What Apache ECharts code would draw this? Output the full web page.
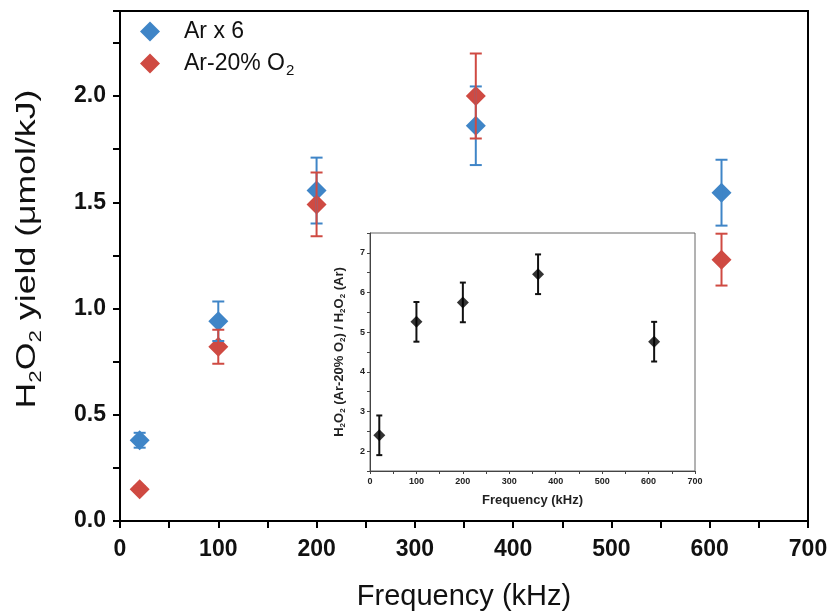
<!DOCTYPE html>
<html>
<head>
<meta charset="utf-8">
<script src="https://cdn.jsdelivr.net/npm/echarts@6/dist/echarts.min.js"></script>
<style>
  html, body { margin: 0; padding: 0; background: #fff; }
  #chart { width: 833px; height: 612px; }
</style>
</head>
<body>
<div id="chart"></div>
<script>
// Frequency (kHz) of each measurement
const frequency = [20, 100, 200, 362, 612];

// H2O2 yield (µmol/kJ), argon values scaled by 6
const arYield = [0.38, 0.94, 1.555, 1.86, 1.545];
const arError = [0.035, 0.093, 0.155, 0.185, 0.155];

// H2O2 yield (µmol/kJ), Ar-20% O2
const o2Yield = [0.15, 0.82, 1.49, 2.0, 1.23];
const o2Error = [0.012, 0.08, 0.15, 0.2, 0.122];

// Ratio of yields, Ar-20% O2 over Ar
const ratio = [2.4, 5.26, 5.75, 6.46, 4.76];
const ratioError = [0.5, 0.5, 0.5, 0.5, 0.5];

const BLUE = '#3f85c7';
const RED = '#cf4a42';
const FONT = 'Liberation Sans, Arial, sans-serif';

function points(xs, ys) { return xs.map((x, i) => [x, ys[i]]); }
function bars(xs, ys, es) { return xs.map((x, i) => [x, ys[i] - es[i], ys[i] + es[i]]); }

function errorBars(color, cap, width) {
  return function (params, api) {
    const x = api.value(0);
    const lo = api.coord([x, api.value(1)]);
    const hi = api.coord([x, api.value(2)]);
    const style = { stroke: color, lineWidth: width };
    return {
      type: 'group',
      children: [
        { type: 'line', shape: { x1: lo[0], y1: lo[1], x2: hi[0], y2: hi[1] }, style },
        { type: 'line', shape: { x1: hi[0] - cap, y1: hi[1], x2: hi[0] + cap, y2: hi[1] }, style },
        { type: 'line', shape: { x1: lo[0] - cap, y1: lo[1], x2: lo[0] + cap, y2: lo[1] }, style }
      ]
    };
  };
}

const chart = echarts.init(document.getElementById('chart'), null, { renderer: 'canvas' });

chart.setOption({
  backgroundColor: '#ffffff',
  animation: false,
  legend: {
    left: 135,
    top: 15,
    orient: 'vertical',
    itemWidth: 20,
    itemHeight: 20,
    itemGap: 9,
    data: ['Ar x 6', 'Ar-20% O2'],
    formatter: function (name) {
      return name === 'Ar-20% O2' ? '{t|Ar-20% O}{s|2}' : '{t|' + name + '}';
    },
    textStyle: {
      color: '#111',
      fontFamily: FONT,
      fontSize: 23,
      padding: [0, 0, 0, 19],
      rich: {
        t: { fontSize: 23, fontFamily: FONT, color: '#111' },
        s: { fontSize: 15, fontFamily: FONT, color: '#111', padding: [15, 0, 0, 1] }
      }
    }
  },
  // main y-axis title, drawn elongated along its length
  graphic: [
    {
      type: 'text',
      x: 28,
      y: 249,
      rotation: Math.PI / 2,
      scaleX: 1.32,
      style: {
        text: 'H{s|2}O{s|2} yield (\u03bcmol/kJ)',
        font: '27px ' + FONT,
        fill: '#111',
        align: 'center',
        verticalAlign: 'middle',
        rich: {
          s: { fontSize: 17, fontFamily: FONT, fill: '#111', padding: [17, 0, 0, 0] }
        }
      }
    }
  ],
  grid: [
    { left: 120, top: 11, width: 688, height: 510, outerBoundsMode: 'none', containLabel: false, show: true, borderColor: '#000', borderWidth: 2, backgroundColor: 'transparent' },
    { left: 370, top: 233, width: 325, height: 238, outerBoundsMode: 'none', containLabel: false, show: true, borderColor: '#666', borderWidth: 1, backgroundColor: '#fff' }
  ],
  xAxis: [
    {
      gridIndex: 0, type: 'value', min: 0, max: 700, interval: 100,
      name: 'Frequency (kHz)', nameLocation: 'middle', nameGap: 61,
      nameTextStyle: { fontSize: 29, color: '#111', fontFamily: FONT },
      axisLine: { show: true, lineStyle: { color: '#000', width: 2 } },
      axisTick: { show: true, inside: false, length: 7, lineStyle: { color: '#000', width: 2 } },
      minorTick: { show: true, splitNumber: 2, length: 7, lineStyle: { color: '#000', width: 2 } },
      splitLine: { show: false },
      axisLabel: { margin: 17, fontSize: 23, fontWeight: 'bold', color: '#111', fontFamily: FONT }
    },
    {
      gridIndex: 1, type: 'value', min: 0, max: 700, interval: 100,
      name: 'Frequency (kHz)', nameLocation: 'middle', nameGap: 23,
      nameTextStyle: { fontSize: 13, fontWeight: 'bold', color: '#222', fontFamily: FONT },
      axisLine: { show: true, lineStyle: { color: '#444', width: 1 } },
      axisTick: { show: true, length: 3, lineStyle: { color: '#444' } },
      minorTick: { show: true, splitNumber: 2, length: 3, lineStyle: { color: '#444' } },
      splitLine: { show: false },
      axisLabel: { margin: 6, fontSize: 9, fontWeight: 'bold', color: '#222', fontFamily: FONT }
    }
  ],
  yAxis: [
    {
      gridIndex: 0, type: 'value', min: 0, max: 2.4, interval: 0.5,
      axisLine: { show: true, lineStyle: { color: '#000', width: 2 } },
      axisTick: { show: true, length: 7, lineStyle: { color: '#000', width: 2 } },
      minorTick: { show: true, splitNumber: 2, length: 7, lineStyle: { color: '#000', width: 2 } },
      splitLine: { show: false },
      axisLabel: {
        margin: 14, fontSize: 23, fontWeight: 'bold', color: '#111', showMaxLabel: false,
        fontFamily: FONT,
        formatter: v => v.toFixed(1)
      }
    },
    {
      gridIndex: 1, type: 'value', min: 1.5, max: 7.5, interval: 0.5,
      name: 'H{s|2}O{s|2} (Ar-20% O{s|2}) / H{s|2}O{s|2} (Ar)', nameLocation: 'middle', nameGap: 23, nameRotate: 90,
      nameTextStyle: {
        fontSize: 13, fontWeight: 'bold', color: '#222', fontFamily: FONT,
        rich: { s: { fontSize: 8, fontWeight: 'bold', color: '#222', padding: [7, 0, 0, 0] } }
      },
      axisLine: { show: true, lineStyle: { color: '#444', width: 1 } },
      axisTick: { show: true, length: 3, lineStyle: { color: '#444' } },
      splitLine: { show: false },
      axisLabel: {
        margin: 5, fontSize: 9, fontWeight: 'bold', color: '#222',
        fontFamily: FONT,
        formatter: v => (Number.isInteger(v) ? String(v) : '')
      }
    }
  ],
  series: [
    {
      name: 'Ar x 6', type: 'scatter', xAxisIndex: 0, yAxisIndex: 0,
      symbol: 'diamond', symbolSize: 20, itemStyle: { color: BLUE, opacity: 1 },
      data: points(frequency, arYield), z: 2
    },
    {
      name: 'Ar-20% O2', type: 'scatter', xAxisIndex: 0, yAxisIndex: 0,
      symbol: 'diamond', symbolSize: 20, itemStyle: { color: RED, opacity: 1 },
      data: points(frequency, o2Yield), z: 3
    },
    {
      name: 'Ar x 6 err', type: 'custom', xAxisIndex: 0, yAxisIndex: 0,
      data: bars(frequency, arYield, arError), renderItem: errorBars(BLUE, 6, 2), z: 4
    },
    {
      name: 'Ar-20% O2 err', type: 'custom', xAxisIndex: 0, yAxisIndex: 0,
      data: bars(frequency, o2Yield, o2Error), renderItem: errorBars(RED, 6, 2), z: 5
    },
    {
      name: 'ratio err', type: 'custom', xAxisIndex: 1, yAxisIndex: 1,
      data: bars(frequency, ratio, ratioError), renderItem: errorBars('#111', 3, 2), z: 6
    },
    {
      name: 'ratio', type: 'scatter', xAxisIndex: 1, yAxisIndex: 1,
      symbol: 'diamond', symbolSize: 12, itemStyle: { color: '#000' },
      data: points(frequency, ratio), z: 7
    }
  ]
});
</script>
</body>
</html>
